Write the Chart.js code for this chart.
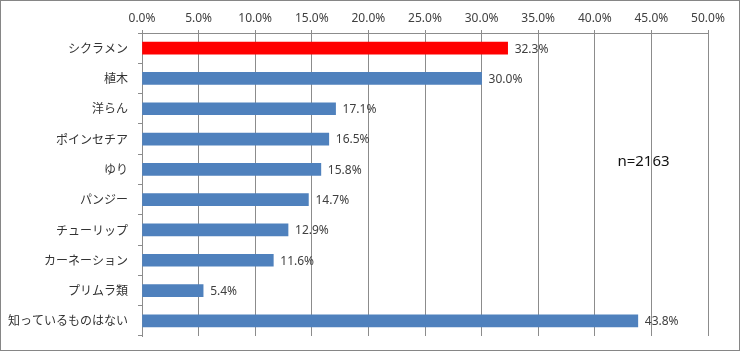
<!DOCTYPE html>
<html>
<head>
<meta charset="utf-8">
<script src="https://cdn.jsdelivr.net/npm/chart.js@4"></script>
<style>
  body { margin: 0; background: #fff; }
  #wrap { width: 740px; height: 351px; box-sizing: border-box; border: 1px solid #868686; }
  canvas { display: block; }
</style>
</head>
<body>
<div id="wrap"><canvas id="chart" width="738" height="349"></canvas></div>
<script>
const categories = ["シクラメン", "植木", "洋らん", "ポインセチア", "ゆり", "パンジー", "チューリップ", "カーネーション", "プリムラ類", "知っているものはない"];
const values = [32.3, 30.0, 17.1, 16.5, 15.8, 14.7, 12.9, 11.6, 5.4, 43.8];
const barColors = ["#FF0000", "#4F81BD", "#4F81BD", "#4F81BD", "#4F81BD", "#4F81BD", "#4F81BD", "#4F81BD", "#4F81BD", "#4F81BD"];
const sampleNote = "n=2163";

const textColor = "#404040";
const gridColor = "#8C8C8C";

// value labels at bar ends + the n= note
const labelPlugin = {
  id: "labels",
  afterDatasetsDraw(chart) {
    const ctx = chart.ctx;
    const meta = chart.getDatasetMeta(0);
    ctx.save();
    ctx.font = "12px 'Noto Sans', sans-serif";
    ctx.fillStyle = textColor;
    ctx.textBaseline = "middle";
    ctx.textAlign = "left";
    meta.data.forEach((bar, i) => {
      ctx.fillText(values[i].toFixed(1) + "%", bar.x + 7, bar.y + 1);
    });
    const x = chart.scales.x.getPixelForValue(42);
    const y = chart.scales.y.getPixelForValue(3.75);
    ctx.font = "15px 'Noto Sans', sans-serif";
    ctx.fillStyle = "#111";
    ctx.fillText(sampleNote, x, y);
    ctx.restore();
  }
};

new Chart(document.getElementById("chart"), {
  type: "bar",
  data: {
    labels: categories,
    datasets: [{
      data: values,
      backgroundColor: barColors,
      barThickness: 12
    }]
  },
  options: {
    indexAxis: "y",
    responsive: false,
    animation: false,
    layout: { padding: { left: 0, right: 31, top: 0, bottom: 14 } },
    plugins: {
      legend: { display: false },
      tooltip: { enabled: false }
    },
    scales: {
      x: {
        position: "top",
        min: 0,
        max: 50,
        ticks: {
          stepSize: 5,
          color: textColor,
          font: { size: 12, family: "'Noto Sans', sans-serif" },
          padding: 4,
          callback: v => v.toFixed(1) + "%"
        },
        grid: { color: gridColor, tickLength: 3 },
        border: { color: gridColor },
        afterFit(scale) { scale.height = 32; }
      },
      y: {
        ticks: {
          color: "#333",
          font: { size: 12, family: "'Noto Sans CJK JP', sans-serif" },
          padding: 10
        },
        grid: { drawOnChartArea: false, color: gridColor, tickLength: 4, offset: true },
        border: { color: gridColor },
        afterFit(scale) {
          scale.width = 141;
          scale.paddingTop = 0;
          scale.paddingBottom = 0;
        }
      }
    }
  },
  plugins: [labelPlugin]
});
</script>
</body>
</html>
